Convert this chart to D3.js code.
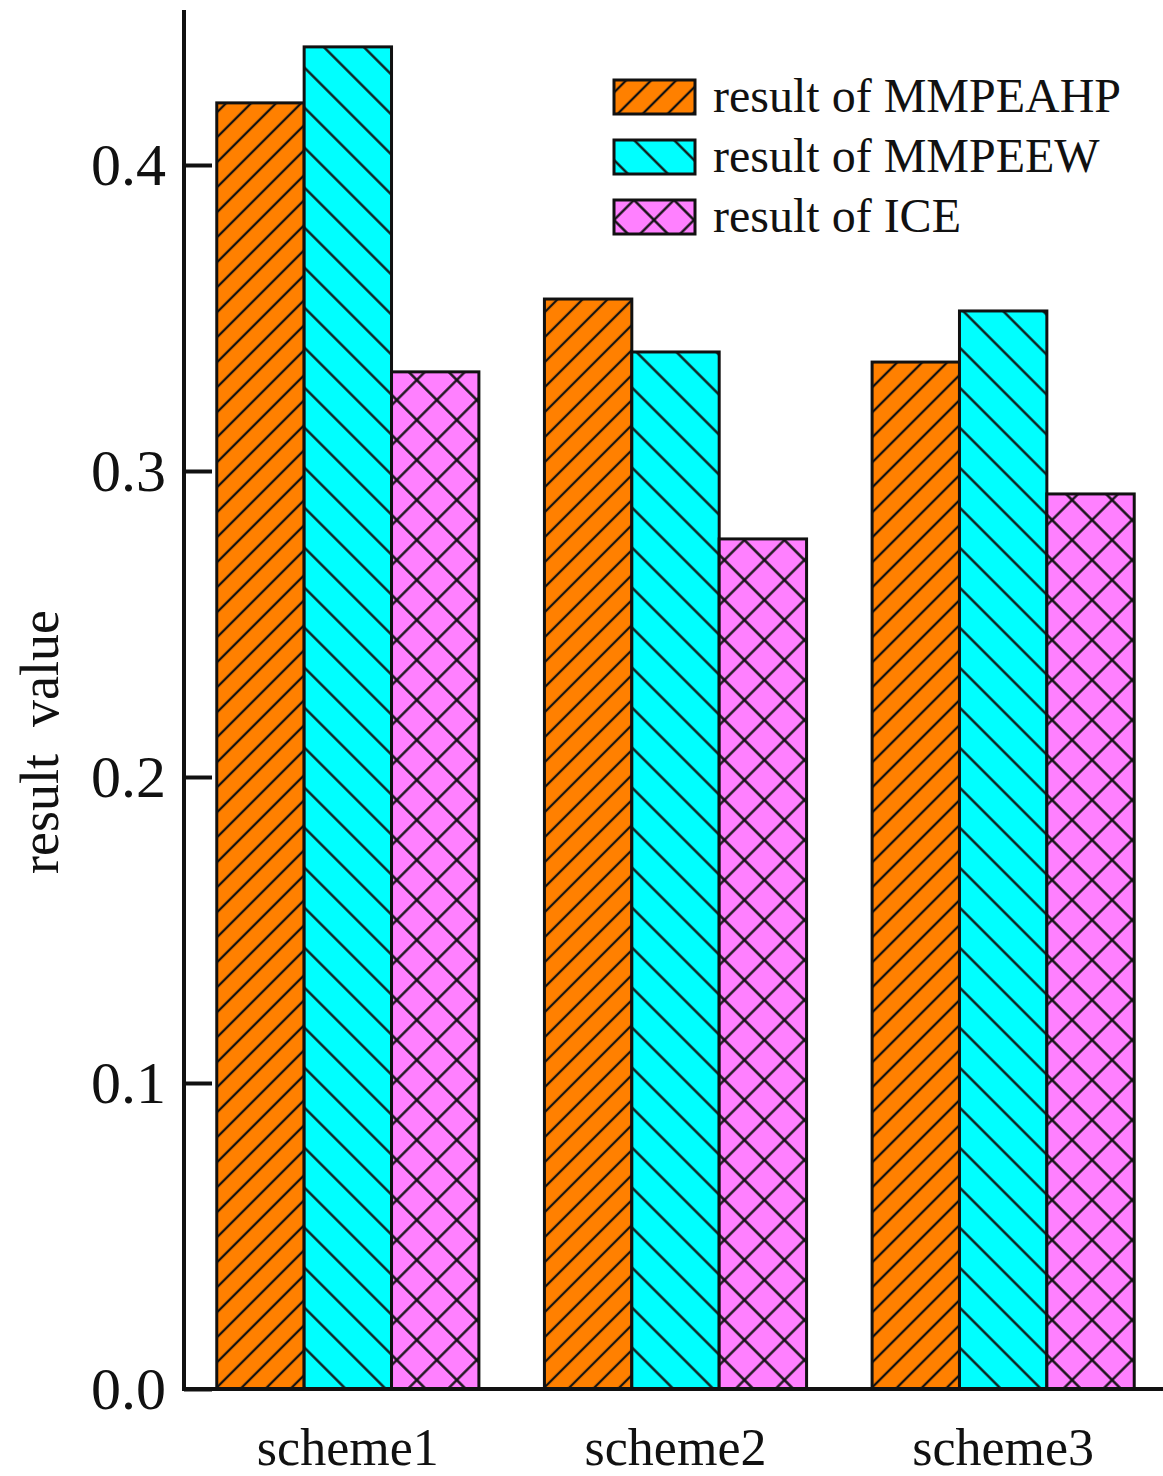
<!DOCTYPE html>
<html>
<head>
<meta charset="utf-8">
<script src="https://cdn.jsdelivr.net/npm/d3@7"></script>
<style>
  body { margin: 0; background: #fff; }
  text { font-family: "Liberation Serif", "Times New Roman", serif; fill: #111; }
</style>
</head>
<body>
<div id="chart"></div>
<script>
const width = 1163;
const height = 1476;

const schemes = ['scheme1', 'scheme2', 'scheme3'];
const seriesNames = ['result of MMPEAHP', 'result of MMPEEW', 'result of ICE'];
const mmpeahp = [0.4203, 0.3562, 0.3356];
const mmpeew = [0.4386, 0.3389, 0.3523];
const ice = [0.3324, 0.2778, 0.2925];
const yTicks = [0.0, 0.1, 0.2, 0.3, 0.4];

const colors = ['#ff8000', '#00ffff', '#ff80ff'];
const patternIds = ['hatch-fwd', 'hatch-back', 'hatch-cross'];

const series = [mmpeahp, mmpeew, ice];

const svg = d3.select('#chart').append('svg')
  .attr('width', width)
  .attr('height', height);

// hatch patterns, drawn as rotated vertical lines
const defs = svg.append('defs');
const makeHatch = (id, color, spacing, angles) => {
  const p = defs.append('pattern')
    .attr('id', id)
    .attr('patternUnits', 'userSpaceOnUse')
    .attr('width', spacing)
    .attr('height', spacing)
    .attr('patternTransform', `rotate(${angles[0]})`);
  p.append('rect').attr('width', spacing).attr('height', spacing).attr('fill', color);
  p.append('line')
    .attr('x1', spacing / 2).attr('y1', -1)
    .attr('x2', spacing / 2).attr('y2', spacing + 1)
    .attr('stroke', '#111').attr('stroke-width', 2.3);
  if (angles.length > 1) {
    // second family, perpendicular in the rotated frame
    p.append('line')
      .attr('x1', -1).attr('y1', spacing / 2)
      .attr('x2', spacing + 1).attr('y2', spacing / 2)
      .attr('stroke', '#111').attr('stroke-width', 2.3);
  }
};
makeHatch(patternIds[0], colors[0], 25 / Math.SQRT2, [45]);
makeHatch(patternIds[1], colors[1], 40 / Math.SQRT2, [-45]);
makeHatch(patternIds[2], colors[2], 40 / Math.SQRT2, [45, -45]);

const x0 = 184;
const yBase = 1389;

const xScale = d3.scaleBand()
  .domain(schemes)
  .range([x0, 1167])
  .paddingInner(0.2)
  .paddingOuter(0.1);

const xInner = d3.scaleBand()
  .domain(seriesNames)
  .range([0, xScale.bandwidth()]);

const yScale = d3.scaleLinear()
  .domain([0, 0.45])
  .range([yBase, yBase - 0.45 * 3060]);

// bars
const groups = svg.append('g').selectAll('g')
  .data(schemes)
  .join('g')
  .attr('transform', d => `translate(${xScale(d)},0)`);

groups.selectAll('rect')
  .data((d, i) => series.map((s, k) => ({ name: seriesNames[k], value: s[i], k })))
  .join('rect')
  .attr('x', d => xInner(d.name))
  .attr('y', d => yScale(d.value))
  .attr('width', xInner.bandwidth())
  .attr('height', d => yBase - yScale(d.value))
  .attr('fill', d => `url(#${patternIds[d.k]})`)
  .attr('stroke', '#111')
  .attr('stroke-width', 3);

// y axis with inward ticks
const yAxis = svg.append('g')
  .attr('transform', `translate(${x0},0)`)
  .call(d3.axisRight(yScale).tickValues(yTicks).tickSize(28).tickFormat(''));
yAxis.select('.domain').remove();
yAxis.selectAll('line').attr('stroke', '#111').attr('stroke-width', 4);

svg.append('line')
  .attr('x1', x0).attr('x2', x0)
  .attr('y1', 10).attr('y2', yBase + 2)
  .attr('stroke', '#111').attr('stroke-width', 4);

svg.selectAll('.ylab')
  .data(yTicks)
  .join('text')
  .attr('class', 'ylab')
  .attr('x', 166)
  .attr('y', d => yScale(d) + 20)
  .attr('text-anchor', 'end')
  .attr('font-size', 60)
  .text(d => d3.format('.1f')(d));

// x axis
svg.append('line')
  .attr('x1', x0 - 2).attr('x2', width)
  .attr('y1', yBase).attr('y2', yBase)
  .attr('stroke', '#111').attr('stroke-width', 4);

svg.selectAll('.xlab')
  .data(schemes)
  .join('text')
  .attr('class', 'xlab')
  .attr('x', d => xScale(d) + xScale.bandwidth() / 2)
  .attr('y', 1465)
  .attr('text-anchor', 'middle')
  .attr('font-size', 52)
  .text(d => d);

// y title
svg.append('text')
  .attr('transform', 'translate(58,742) rotate(-90)')
  .attr('text-anchor', 'middle')
  .attr('font-size', 54)
  .attr('xml:space', 'preserve')
  .style('white-space', 'pre')
  .text('result  value');

// legend
const legend = svg.append('g').attr('transform', 'translate(614,80)');
const items = legend.selectAll('g')
  .data(seriesNames)
  .join('g')
  .attr('transform', (d, i) => `translate(0,${i * 60})`);
items.append('rect')
  .attr('width', 81)
  .attr('height', 34)
  .attr('fill', (d, i) => `url(#${patternIds[i]})`)
  .attr('stroke', '#111')
  .attr('stroke-width', 3);
items.append('text')
  .attr('x', 99)
  .attr('y', 32)
  .attr('font-size', 48)
  .text(d => d);
</script>
</body>
</html>
